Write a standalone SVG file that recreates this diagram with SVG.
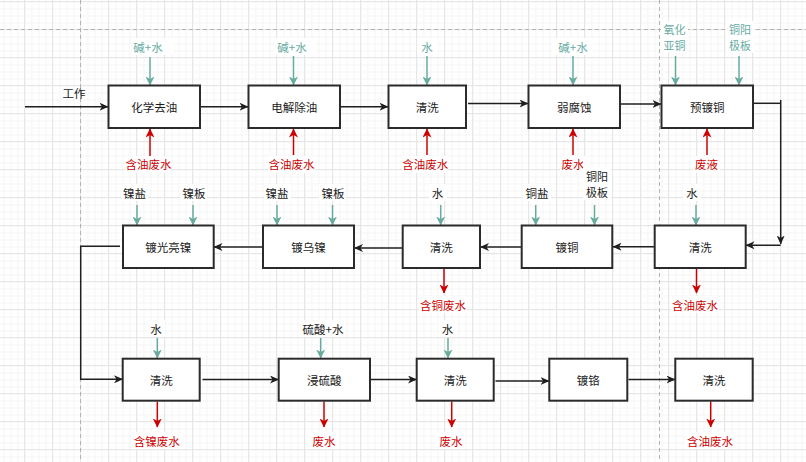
<svg xmlns="http://www.w3.org/2000/svg" width="806" height="462" viewBox="0 0 806 462">
<style>
.box{fill:#fff;stroke:#2b2b2b;stroke-width:2}
.t{font-family:"Noto Sans CJK SC","Noto Sans",sans-serif;font-size:11.5px;text-anchor:middle;dominant-baseline:central}
.t2{font-size:11px}
.tb{fill:#1a1a1a}
.tg{fill:#67AB9F}
.tr{fill:#CC0000}
.lbg{fill:#fff}
.k{stroke:#1f1f1f;stroke-width:1.5;fill:none}
.g{stroke:#67AB9F;stroke-width:1.5;fill:none}
.r{stroke:#CC0000;stroke-width:1.5;fill:none}
</style>
<defs>
<pattern id="minor" width="7" height="7" x="3.5" y="1.5" patternUnits="userSpaceOnUse">
<path d="M0,0.5 H7 M0.5,0 V7" stroke="#f4f4f4" stroke-width="1" fill="none"/>
</pattern>
<pattern id="major" width="28" height="28" x="24" y="29" patternUnits="userSpaceOnUse">
<path d="M0,0.5 H28 M0.5,0 V28" stroke="#e6e6e6" stroke-width="1" fill="none"/>
</pattern>
<marker id="ak" markerWidth="9" markerHeight="8" refX="8.5" refY="4" orient="auto" markerUnits="userSpaceOnUse">
<path d="M0,0 L9,4 L0,8 L2.5,4 z" fill="#1f1f1f"/>
</marker>
<marker id="ag" markerWidth="9" markerHeight="9" refX="8.5" refY="4.5" orient="auto" markerUnits="userSpaceOnUse">
<path d="M0,0 L9,4.5 L0,9 L2.5,4.5 z" fill="#67AB9F"/>
</marker>
<marker id="ar" markerWidth="9" markerHeight="9" refX="8.5" refY="4.5" orient="auto" markerUnits="userSpaceOnUse">
<path d="M0,0 L9,4.5 L0,9 L2.5,4.5 z" fill="#CC0000"/>
</marker>
</defs>
<rect width="806" height="462" fill="#fff"/>
<rect width="806" height="462" fill="url(#minor)"/>
<rect width="806" height="462" fill="url(#major)"/>
<g stroke="#b3b3b3" stroke-width="1" stroke-dasharray="4 3" fill="none">
<path d="M0,29.5 H806"/>
<path d="M80.5,0 V462"/>
<path d="M659.5,0 V462"/>
</g>

<g id="connectors">
<path class="k" d="M25,106.7 H108" marker-end="url(#ak)"/>
<path class="k" d="M201,106.7 H248" marker-end="url(#ak)"/>
<path class="k" d="M341,106.7 H388" marker-end="url(#ak)"/>
<path class="k" d="M468,103.5 H528" marker-end="url(#ak)"/>
<path class="k" d="M621,104 H661" marker-end="url(#ak)"/>
<path class="k" d="M754,103.3 H780.7"/>
<path class="k" d="M780.7,100 V244" marker-end="url(#ak)"/>
<path class="k" d="M780.7,245.3 H746" marker-end="url(#ak)"/>
<path class="k" d="M654,246.7 H613" marker-end="url(#ak)"/>
<path class="k" d="M521,247 H480.5" marker-end="url(#ak)"/>
<path class="k" d="M402,248 H354.5" marker-end="url(#ak)"/>
<path class="k" d="M262.5,247 H214" marker-end="url(#ak)"/>
<path class="k" d="M120,246.3 H80.7 V379.3 H122.5" marker-end="url(#ak)"/>
<path class="k" d="M202.5,379.5 H278.5" marker-end="url(#ak)"/>
<path class="k" d="M368,379.5 H416.5" marker-end="url(#ak)"/>
<path class="k" d="M495.5,381 H549" marker-end="url(#ak)"/>
<path class="k" d="M628.5,379.5 H675" marker-end="url(#ak)"/>

<path class="g" d="M150,57 V85" marker-end="url(#ag)"/>
<path class="g" d="M293.5,56 V85" marker-end="url(#ag)"/>
<path class="g" d="M427,56 V85" marker-end="url(#ag)"/>
<path class="g" d="M573,56 V85" marker-end="url(#ag)"/>
<path class="g" d="M675.5,56 V85" marker-end="url(#ag)"/>
<path class="g" d="M739,56 V85" marker-end="url(#ag)"/>
<path class="r" d="M150,156 V129" marker-end="url(#ar)"/>
<path class="r" d="M293.5,155 V129" marker-end="url(#ar)"/>
<path class="r" d="M427,155 V129" marker-end="url(#ar)"/>
<path class="r" d="M573,155 V129" marker-end="url(#ar)"/>
<path class="r" d="M707,155 V129" marker-end="url(#ar)"/>

<path class="g" d="M137,205 V225" marker-end="url(#ag)"/>
<path class="g" d="M193,205 V225" marker-end="url(#ag)"/>
<path class="g" d="M277,205 V225" marker-end="url(#ag)"/>
<path class="g" d="M332.5,205 V225" marker-end="url(#ag)"/>
<path class="g" d="M440.7,205 V225" marker-end="url(#ag)"/>
<path class="g" d="M535.7,205 V225" marker-end="url(#ag)"/>
<path class="g" d="M594.5,205 V225" marker-end="url(#ag)"/>
<path class="g" d="M696,205 V225" marker-end="url(#ag)"/>
<path class="r" d="M444,268.5 V293" marker-end="url(#ar)"/>
<path class="r" d="M696.5,268.5 V293" marker-end="url(#ar)"/>

<path class="g" d="M157.3,338 V358" marker-end="url(#ag)"/>
<path class="g" d="M320.7,338 V358" marker-end="url(#ag)"/>
<path class="g" d="M448,338 V358" marker-end="url(#ag)"/>
<path class="r" d="M157.3,401.5 V427" marker-end="url(#ar)"/>
<path class="r" d="M324,401.5 V427" marker-end="url(#ar)"/>
<path class="r" d="M451.7,401.5 V427" marker-end="url(#ar)"/>
<path class="r" d="M710.7,401.5 V427" marker-end="url(#ar)"/>
</g>

<g id="n1"><rect class="box" x="108.5" y="85.5" width="91.5" height="42.5"/><text class="t tb" x="154.2" y="106.7">化学去油</text></g>
<g id="n2"><rect class="box" x="248.5" y="85.5" width="91.5" height="42.5"/><text class="t tb" x="294.2" y="106.7">电解除油</text></g>
<g id="n3"><rect class="box" x="388.5" y="85.5" width="77.5" height="42.5"/><text class="t tb" x="427.2" y="106.7">清洗</text></g>
<g id="n4"><rect class="box" x="528.5" y="85.5" width="91.5" height="42.5"/><text class="t tb" x="574.2" y="106.7">弱腐蚀</text></g>
<g id="n5"><rect class="box" x="661.5" y="85.5" width="91.5" height="42.5"/><text class="t tb" x="707.2" y="106.7">预镀铜</text></g>

<g id="n6"><rect class="box" x="654.7" y="225.5" width="91" height="42.5"/><text class="t tb" x="700.2" y="246.7">清洗</text></g>
<g id="n7"><rect class="box" x="521.7" y="225.5" width="90.6" height="42.5"/><text class="t tb" x="567" y="246.7">镀铜</text></g>
<g id="n8"><rect class="box" x="402.7" y="225.5" width="77.3" height="42.5"/><text class="t tb" x="441.3" y="246.7">清洗</text></g>
<g id="n9"><rect class="box" x="263" y="225.5" width="91" height="42.5"/><text class="t tb" x="308.5" y="246.7">镀乌镍</text></g>
<g id="n10"><rect class="box" x="123" y="225.5" width="90.7" height="42.5"/><text class="t tb" x="168.3" y="246.7">镀光亮镍</text></g>

<g id="n11"><rect class="box" x="122.7" y="358.7" width="77" height="42"/><text class="t tb" x="161.2" y="379.7">清洗</text></g>
<g id="n12"><rect class="box" x="278.7" y="358.7" width="91.3" height="42"/><text class="t tb" x="324.3" y="379.7">浸硫酸</text></g>
<g id="n13"><rect class="box" x="416.7" y="358.7" width="77" height="42"/><text class="t tb" x="455.2" y="379.7">清洗</text></g>
<g id="n14"><rect class="box" x="549.3" y="358.7" width="78" height="42"/><text class="t tb" x="588.3" y="379.7">镀铬</text></g>
<g id="n15"><rect class="box" x="675.3" y="358.7" width="77.4" height="42"/><text class="t tb" x="714" y="379.7">清洗</text></g>

<g id="labels">
<text class="t tb" x="74" y="92.7">工作</text>
<rect class="lbg" x="132" y="38" width="41" height="17"/><text class="t tg" x="148" y="46.5">碱+水</text>
<rect class="lbg" x="275" y="38" width="41" height="17"/><text class="t tg" x="292" y="46.5">碱+水</text>
<rect class="lbg" x="417" y="38" width="21" height="17"/><text class="t tg" x="427" y="46.5">水</text>
<rect class="lbg" x="552" y="38" width="41" height="17"/><text class="t tg" x="573" y="46.5">碱+水</text>
<rect class="lbg" x="661" y="21" width="27" height="32"/><text class="t t2 tg" x="674.5" y="28.7">氧化</text><text class="t t2 tg" x="674.5" y="44.8">亚铜</text>
<rect class="lbg" x="726" y="21" width="28" height="32"/><text class="t t2 tg" x="740" y="28.7">铜阳</text><text class="t t2 tg" x="740" y="44.8">极板</text>
<rect class="lbg" x="125" y="156" width="46" height="17"/><text class="t tr" x="148.5" y="164.3">含油废水</text>
<rect class="lbg" x="268" y="156" width="46" height="17"/><text class="t tr" x="291.5" y="164.3">含油废水</text>
<rect class="lbg" x="402" y="156" width="46" height="17"/><text class="t tr" x="425.3" y="164.3">含油废水</text>
<rect class="lbg" x="560" y="156" width="27" height="17"/><text class="t tr" x="573" y="164.3">废水</text>
<rect class="lbg" x="693" y="156" width="27" height="17"/><text class="t tr" x="706.5" y="164.3">废液</text>

<rect class="lbg" x="121" y="184" width="27" height="17"/><text class="t tb" x="134.5" y="192.7">镍盐</text>
<rect class="lbg" x="180" y="184" width="27" height="17"/><text class="t tb" x="194" y="192.7">镍板</text>
<rect class="lbg" x="264" y="184" width="27" height="17"/><text class="t tb" x="277" y="192.7">镍盐</text>
<rect class="lbg" x="319" y="184" width="27" height="17"/><text class="t tb" x="333" y="192.7">镍板</text>
<rect class="lbg" x="429" y="184" width="18" height="17"/><text class="t tb" x="437.5" y="192.7">水</text>
<rect class="lbg" x="523" y="184" width="28" height="17"/><text class="t tb" x="537" y="192.7">铜盐</text>
<rect class="lbg" x="583" y="167" width="28" height="33"/><text class="t t2 tb" x="597" y="175.5">铜阳</text><text class="t t2 tb" x="597" y="191.6">极板</text>
<rect class="lbg" x="683" y="184" width="18" height="17"/><text class="t tb" x="692" y="192.7">水</text>
<rect class="lbg" x="419" y="296" width="48" height="17"/><text class="t tr" x="443" y="304.7">含铜废水</text>
<rect class="lbg" x="671" y="296" width="48" height="17"/><text class="t tr" x="695" y="304.7">含油废水</text>

<rect class="lbg" x="147" y="320" width="18" height="17"/><text class="t tb" x="156" y="329">水</text>
<rect class="lbg" x="301" y="320" width="44" height="17"/><text class="t tb" x="323" y="329">硫酸+水</text>
<rect class="lbg" x="439" y="320" width="18" height="17"/><text class="t tb" x="447.5" y="328.5">水</text>
<rect class="lbg" x="132" y="432" width="50" height="17"/><text class="t tr" x="156.7" y="441">含镍废水</text>
<rect class="lbg" x="310" y="432" width="28" height="17"/><text class="t tr" x="324" y="441">废水</text>
<rect class="lbg" x="437" y="432" width="28" height="17"/><text class="t tr" x="451" y="441">废水</text>
<rect class="lbg" x="686" y="432" width="48" height="17"/><text class="t tr" x="710" y="441">含油废水</text>
</g>
</svg>
